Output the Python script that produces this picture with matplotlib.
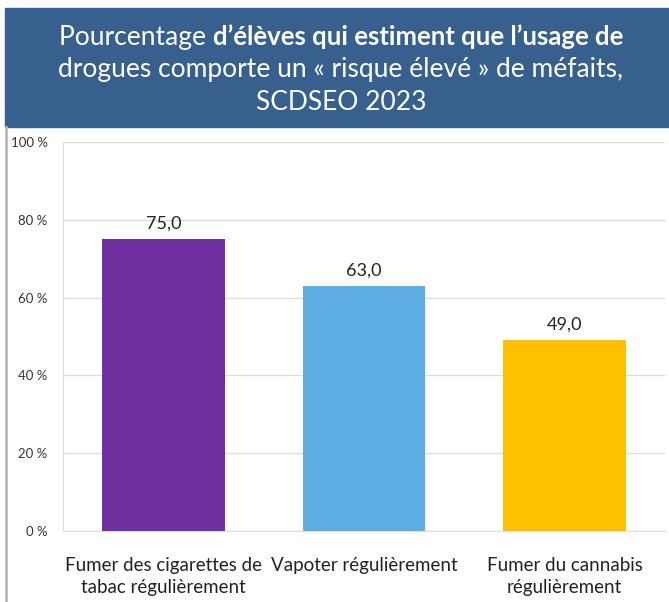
import matplotlib.pyplot as plt
from matplotlib.patches import Rectangle

categories = ['Fumer des cigarettes de\ntabac régulièrement',
              'Vapoter régulièrement',
              'Fumer du cannabis\nrégulièrement']
values = [75.0, 63.0, 49.0]
colors = ['#7030A0', '#5FAEE3', '#FFC000']
yticks = [0, 20, 40, 60, 80, 100]

plt.rcParams['font.family'] = ['Lato', 'DejaVu Sans']

W, H = 669, 602
fig = plt.figure(figsize=(W / 100, H / 100), dpi=100)

# header band
fig.patches.append(Rectangle((5 / W, 1 - 127 / H), 664 / W, 119 / H,
                             transform=fig.transFigure, color='#37608F', zorder=0))
# grey left border
fig.add_artist(plt.Line2D([6 / W, 6 / W], [0, 1 - 127 / H], transform=fig.transFigure,
                          color='#B8B8B8', lw=2))

# title line 1 (normal + bold part)
fs = 19
fig.canvas.draw()
r = fig.canvas.get_renderer()
t1 = fig.text(0, 1 - 37 / H, 'Pourcentage ', color='white', fontsize=fs, va='center')
t2 = fig.text(0, 1 - 37 / H, 'd’élèves qui estiment que l’usage de', color='white',
              fontsize=fs - 0.5, fontweight='bold', va='center')
w1 = t1.get_window_extent(r).width
w2 = t2.get_window_extent(r).width
x0 = 341 - (w1 + w2) / 2
t1.set_x(x0 / W)
t2.set_x((x0 + w1) / W)
fig.text(341 / W, 1 - 70 / H, 'drogues comporte un « risque élevé » de méfaits,',
         color='white', fontsize=fs, ha='center', va='center')
fig.text(341 / W, 1 - 102 / H, 'SCDSEO 2023', color='white', fontsize=fs,
         ha='center', va='center')

ax = fig.add_axes([63 / W, 1 - 531 / H, 602 / W, 389 / H])
x = range(len(values))
bars = ax.bar(x, values, width=0.61, color=colors, zorder=3)
for xi, v in zip(x, values):
    ax.text(xi, v + 2.0, f'{v:.1f}'.replace('.', ','), ha='center', va='bottom',
            fontsize=13, color='#222222')

ax.set_xlim(-0.5, 2.5)
ax.set_ylim(0, 100)
ax.set_yticks(yticks)
ax.set_yticklabels([f'{t} %' for t in yticks], fontsize=9.5, color='#333333')
ax.set_xticks(list(x))
ax.set_xticklabels(categories, fontsize=13.5, color='#222222', linespacing=1.35)
ax.tick_params(axis='both', length=0)
ax.tick_params(axis='x', pad=19)
ax.tick_params(axis='y', pad=11)
ax.grid(axis='y', color='#DDDDDD', lw=1, zorder=0)
for s in ['top', 'right']:
    ax.spines[s].set_visible(False)
ax.spines['left'].set_color('#DDDDDD')
ax.spines['bottom'].set_color('#DDDDDD')

fig.savefig('out.png', dpi=100)
